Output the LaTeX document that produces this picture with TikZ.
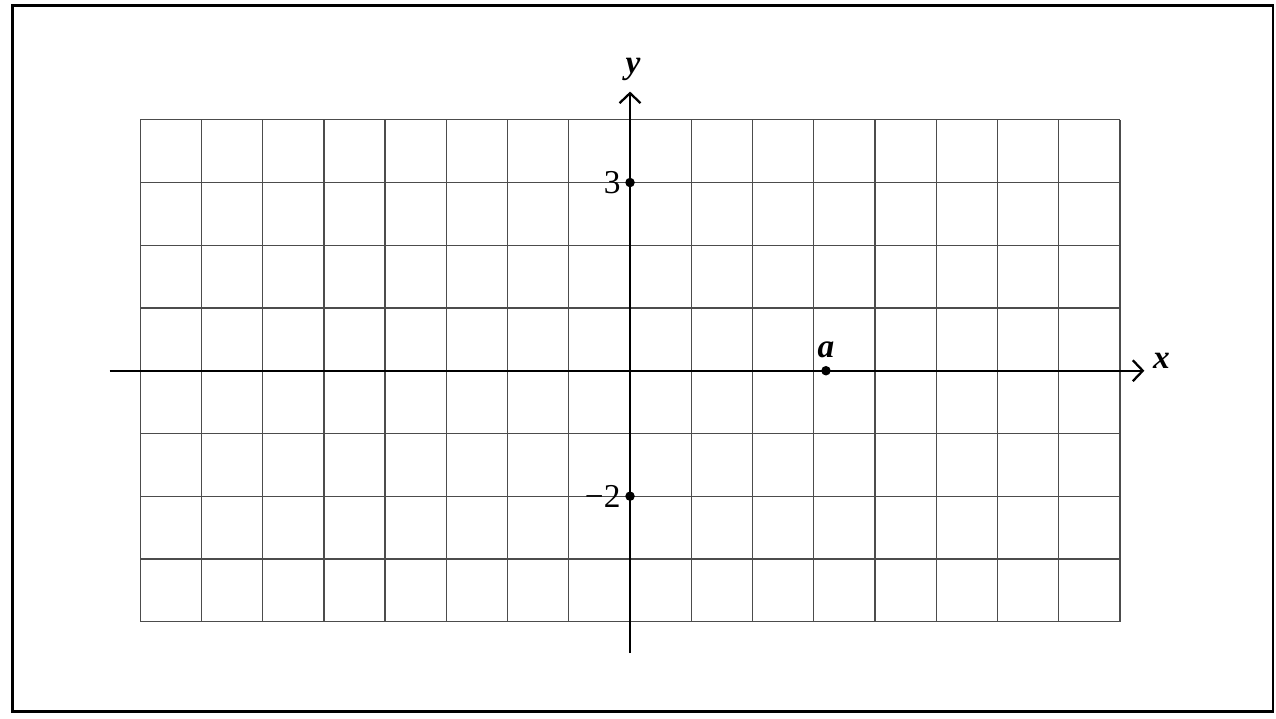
\documentclass[tikz,border=0pt]{standalone}
\usepackage{fontspec}
\setmainfont{Liberation Serif}
\usetikzlibrary{positioning, arrows.meta}

\begin{document}
\begin{tikzpicture}[x=1.225cm, y=1.255cm,
    every node/.style={font=\fontsize{19}{22}\selectfont},
    gridline/.style={black!70, line width=0.75pt},
    axis/.style={-{Straight Barb[length=2mm, width=4.2mm, line width=1.3pt]}, line width=1.3pt},
    dot/.style={circle, fill, inner sep=0pt, minimum size=1.9mm}]

		  \useasboundingbox (-10.29,-5.55) rectangle (10.55,5.91);

		  % Frame
		  \draw[line width=1.6pt] (-10.09,-5.43) rectangle (10.50,5.82);

		  % Grid
		  \foreach \i in {-8,...,8} {
		    \draw[gridline] (\i,-4) -- (\i,4);
		  }
		  \foreach \j in {-4,...,4} {
		    \draw[gridline] (-8,\j) -- (8,\j);
		  }

		  % Axes
		  \coordinate (xstart) at (-8.5,0);
		  \coordinate (xend) at (8.4,0);
		  \coordinate (ystart) at (0,-4.5);
		  \coordinate (yend) at (0,4.45);
		  \draw[axis] (xstart) -- (xend);
		  \draw[axis] (ystart) -- (yend);
		  \node (xlab) at (8.68,0.15) {\bfseries\itshape x};
		  \node (ylab) at (0.05,4.8) {\bfseries\itshape y};

		  % Points
		  \node[dot] (p3) at (0,3) {};
		  \node[dot] (pm2) at (0,-2) {};
		  \node[dot] (pa) at (3.2,0) {};
		  \node[left=-1pt of p3] (n3) {3};
		  \node[left=-1pt of pm2] (nm2) {\textminus2};
		  \node[above=1pt of pa] (na) {\bfseries\itshape a};

		\end{tikzpicture}
\end{document}
